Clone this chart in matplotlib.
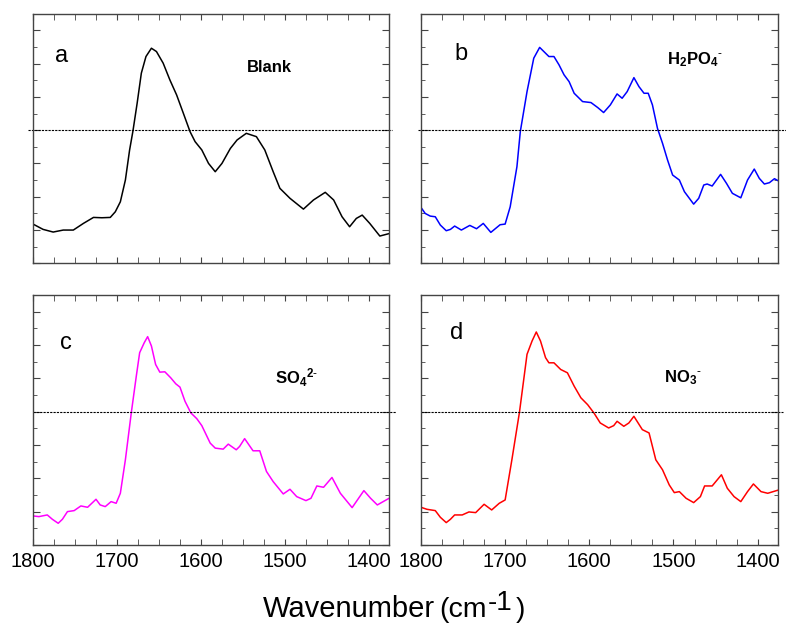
import matplotlib.pyplot as plt
from matplotlib.ticker import MultipleLocator, NullFormatter
from matplotlib.transforms import offset_copy

plt.rcParams['font.family'] = ['Liberation Sans', 'DejaVu Sans']
plt.rcParams['mathtext.fontset'] = 'custom'
plt.rcParams['mathtext.rm'] = 'Liberation Sans'
plt.rcParams['mathtext.bf'] = 'Liberation Sans:bold'
plt.rcParams['mathtext.default'] = 'bf'

# wavenumber (cm-1) / arbitrary intensity
wn_a = [1800, 1788, 1776, 1764, 1752, 1740, 1728, 1718, 1708, 1702, 1696, 1690, 1685, 1681,
        1676, 1671, 1665.5, 1659, 1653, 1645, 1637, 1629, 1621, 1613, 1607, 1599, 1591, 1583,
        1575, 1565, 1557, 1546, 1534, 1524, 1514, 1506, 1494, 1478, 1466, 1452, 1442, 1432,
        1423, 1415, 1408, 1399, 1387, 1375]
y_a = [2.35, 2.03, 1.87, 1.99, 1.99, 2.39, 2.75, 2.73, 2.75, 3.09, 3.69, 5.0, 6.8, 7.95,
       9.62, 11.43, 12.43, 12.93, 12.73, 12.03, 11.02, 10.12, 9.02, 7.91, 7.31, 6.81, 6.0, 5.5,
       6.0, 6.9, 7.41, 7.81, 7.61, 6.81, 5.5, 4.5, 3.9, 3.25, 3.8, 4.26, 3.8, 2.79,
       2.19, 2.69, 2.89, 2.39, 1.63, 1.79]

wn_b = [1800, 1795, 1789, 1783, 1777, 1770, 1765, 1760, 1752, 1742, 1734, 1726, 1717, 1706,
        1700, 1694, 1686, 1682, 1674, 1666, 1659, 1654, 1648, 1642, 1636, 1630, 1624, 1618,
        1608, 1598, 1590, 1583, 1575, 1567, 1561, 1555, 1547, 1541, 1535, 1530, 1525, 1519,
        1513, 1507, 1501, 1493, 1487, 1476, 1470, 1464, 1460, 1454, 1444, 1437, 1430, 1420,
        1412, 1404, 1398, 1392, 1386, 1380, 1375]
y_b = [3.35, 2.99, 2.83, 2.79, 2.29, 1.95, 2.03, 2.23, 1.99, 2.27, 2.07, 2.39, 1.85, 2.31,
       2.35, 3.39, 5.8, 7.91, 10.32, 12.33, 12.98, 12.73, 12.43, 12.43, 11.93, 11.33, 10.92, 10.22,
       9.72, 9.66, 9.36, 9.06, 9.52, 10.18, 9.92, 10.32, 11.16, 10.62, 10.22, 10.22, 9.52, 8.11,
       7.21, 6.2, 5.3, 5.0, 4.3, 3.55, 3.9, 4.7, 4.76, 4.64, 5.34, 4.8, 4.2, 3.93,
       5.0, 5.66, 5.1, 4.76, 4.84, 5.08, 4.94]

wn_c = [1800, 1793, 1783, 1777, 1770, 1765, 1759, 1751, 1743, 1735, 1725, 1720, 1714, 1707,
        1701, 1696, 1690, 1683, 1677, 1673, 1667.5, 1663.5, 1659, 1654, 1649, 1643, 1636, 1630,
        1625, 1619, 1612, 1605, 1599, 1589, 1583, 1573.5, 1567.5, 1558, 1554, 1548, 1538, 1530,
        1522, 1514, 1502, 1494, 1486, 1475, 1469, 1462, 1454, 1444, 1434, 1420, 1406, 1398,
        1390, 1376]
y_c = [1.75, 1.71, 1.81, 1.55, 1.31, 1.55, 2.01, 2.07, 2.35, 2.27, 2.75, 2.41, 2.31, 2.61,
       2.51, 3.11, 5.12, 7.93, 10.14, 11.55, 12.15, 12.51, 11.95, 10.84, 10.38, 10.4, 10.04, 9.68,
       9.48, 8.63, 7.93, 7.59, 7.17, 6.12, 5.82, 5.76, 6.06, 5.72, 5.92, 6.39, 5.66, 5.66,
       4.42, 3.81, 3.07, 3.35, 2.91, 2.67, 2.81, 3.55, 3.47, 4.06, 3.11, 2.25, 3.27, 2.81,
       2.41, 2.81]

wn_d = [1800, 1793, 1783, 1777, 1770, 1765, 1760, 1751, 1743, 1735, 1725, 1716, 1707, 1700,
        1692, 1683, 1674, 1668, 1663, 1658, 1652, 1648, 1642, 1634, 1626, 1618, 1610, 1602,
        1594.5, 1587, 1577, 1571, 1567, 1559, 1553, 1547, 1537, 1529, 1521, 1513, 1505, 1499,
        1493, 1485, 1476, 1468, 1463, 1454, 1443, 1436, 1428, 1420, 1412, 1405, 1396, 1388,
        1375]
y_d = [2.27, 2.15, 2.07, 1.67, 1.35, 1.55, 1.81, 1.81, 1.99, 1.95, 2.45, 2.11, 2.51, 2.71,
       5.12, 7.97, 11.45, 12.25, 12.79, 12.25, 11.25, 10.94, 10.94, 10.54, 10.34, 9.54, 8.84, 8.43,
       7.93, 7.33, 7.03, 7.17, 7.43, 7.13, 7.33, 7.73, 6.93, 6.73, 5.12, 4.52, 3.61, 3.15,
       3.21, 2.81, 2.55, 2.91, 3.55, 3.55, 4.22, 3.41, 2.91, 2.61, 3.21, 3.67, 3.21, 3.11,
       3.31]

letters = ['a', 'b', 'c', 'd']
species = ['Blank', r'H$_{2}$PO$_{4}$$^{\text{-}}$',
           r'SO$_{4}$$^{2\text{-}}$', r'NO$_{3}$$^{\text{-}}$']
colors = ['black', 'blue', 'magenta', 'red']
baseline = 8

fig = plt.figure(figsize=(7.86, 6.28), dpi=100)

pos = [[0.042, 0.581, 0.453, 0.397], [0.5356, 0.581, 0.454, 0.397],
       [0.042, 0.132, 0.453, 0.398], [0.5356, 0.132, 0.454, 0.398]]
letter_xy = [(0.062, 0.83), (0.095, 0.84), (0.076, 0.81), (0.08, 0.85)]
label_xy = [(0.60, 0.783), (0.69, 0.815), (0.68, 0.67), (0.68, 0.67)]
dot_span = [(-0.014, 1.008), (-0.008, 1.03), (0.0, 1.02), (0.0, 1.014)]
data = [(wn_a, y_a), (wn_b, y_b), (wn_c, y_c), (wn_d, y_d)]

for i in range(4):
    ax = fig.add_axes(pos[i])
    x, y = data[i]
    ax.plot(x, y, color=colors[i], lw=1.1)
    ax.set_xlim(1800, 1376)
    ax.set_ylim(0, 15)
    ax.plot(dot_span[i], [baseline, baseline], color='black', lw=0.8, ls=(0, (2, 1)),
            transform=ax.get_yaxis_transform(), clip_on=False)

    ax.xaxis.set_major_locator(MultipleLocator(100))
    ax.xaxis.set_minor_locator(MultipleLocator(25))
    ax.yaxis.set_major_locator(MultipleLocator(2))
    ax.yaxis.set_minor_locator(MultipleLocator(1))
    ax.tick_params(which='both', direction='in', top=True, right=True, color='#444444')
    ax.tick_params(axis='x', which='both', length=4)
    ax.tick_params(axis='y', which='major', length=5)
    ax.tick_params(axis='y', which='minor', length=3)
    ax.yaxis.set_major_formatter(NullFormatter())
    if i < 2:
        ax.xaxis.set_major_formatter(NullFormatter())
    else:
        ax.tick_params(axis='x', labelsize=14.5, pad=5)
    for s in ax.spines.values():
        s.set_color('#444444')
        s.set_linewidth(1.0)

    ax.text(letter_xy[i][0], letter_xy[i][1], letters[i], transform=ax.transAxes,
            fontsize=17, va='center', ha='left')
    ax.text(label_xy[i][0], label_xy[i][1], species[i], transform=ax.transAxes,
            fontsize=12, fontweight='bold', va='center', ha='left')

# x label: the unit part is set smaller with a raised "-1", like in the original;
# each piece is put right after the previous one
W, H = 786.0, 628.0
renderer = fig.canvas.get_renderer()
pieces = [('Wavenumber', 21, 0, 0), ('(cm', 20.5, 4, 0), ('-1', 20, 1, 7), (')', 20, 3, 0)]
x_px = 263
for txt, size, gap, rise in pieces:
    x_px += gap
    t = fig.text(x_px / W, 1 - (617 - rise) / H, txt, fontsize=size,
                 va='baseline', ha='left')
    x_px = t.get_window_extent(renderer).x1

fig.savefig('out.png', dpi=100)
